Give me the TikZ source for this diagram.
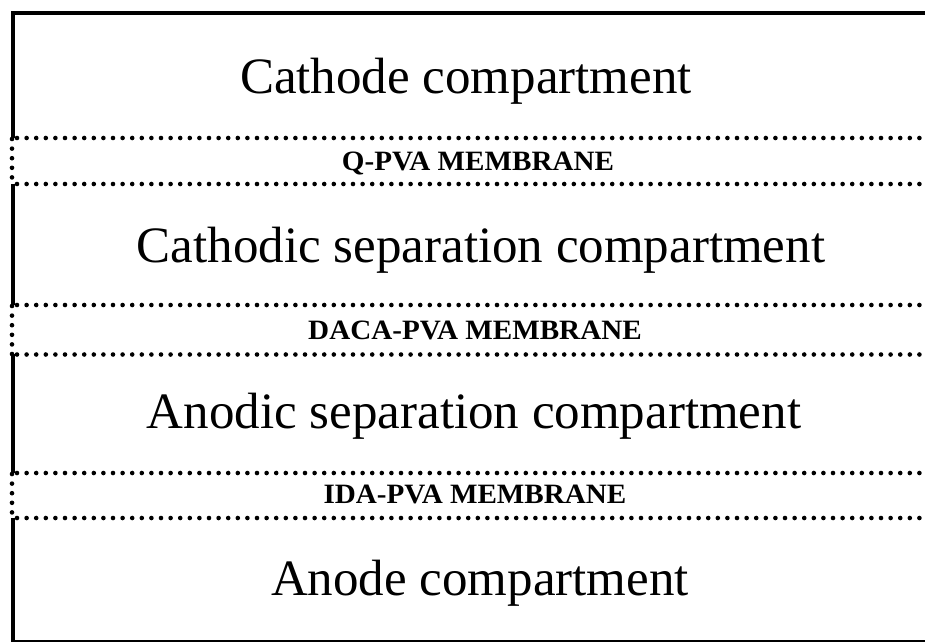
\documentclass[tikz,border=0pt]{standalone}
\usepackage{fontspec}
\setmainfont{Liberation Serif}
\begin{document}
\begin{tikzpicture}[x=1pt,y=-1pt,
  frame/.style={line width=4.3pt},
  dotline/.style={line width=4.6pt, dash pattern=on 0pt off 9.6pt, line cap=round},
  compartment/.style={font=\fontsize{51}{60}\selectfont, anchor=base, inner sep=0pt},
  membrane/.style={font=\fontsize{28}{32}\selectfont\bfseries, anchor=base, inner sep=0pt, xscale=1.04}]
\useasboundingbox (0,0) rectangle (925,641);
\clip (0,0) rectangle (925,641);
% outer frame: top, right, bottom
\draw[frame] (13,13) -- (935,13) -- (935,641.8) -- (13,641.8);
% left border: solid outside membranes, dotted across membranes
\draw[frame] (13,11) -- (13,138);
\draw[dotline] (12,139) -- (12,184);
\draw[frame] (13,184) -- (13,305);
\draw[dotline] (12,306) -- (12,354);
\draw[frame] (13,354) -- (13,473);
\draw[dotline] (12,474) -- (12,518);
\draw[frame] (13,518) -- (13,643);
% membrane dotted lines
\draw[dotline] (17,138) -- (925,138);
\draw[dotline] (17,184) -- (925,184);
\draw[dotline] (17,305) -- (925,305);
\draw[dotline] (17,354.5) -- (925,354.5);
\draw[dotline] (17,473) -- (925,473);
\draw[dotline] (17,518) -- (925,518);
% texts
\node[compartment] (cath) at (466,93) {Cathode compartment};
\node[membrane] (qpva) at (478,170) {Q-PVA MEMBRANE};
\node[compartment] (csep) at (481,262) {Cathodic separation compartment};
\node[membrane] (daca) at (475,339) {DACA-PVA MEMBRANE};
\node[compartment] (asep) at (474,428) {Anodic separation compartment};
\node[membrane] (ida) at (475,503) {IDA-PVA MEMBRANE};
\node[compartment] (anod) at (480,595) {Anode compartment};
\end{tikzpicture}
\end{document}
